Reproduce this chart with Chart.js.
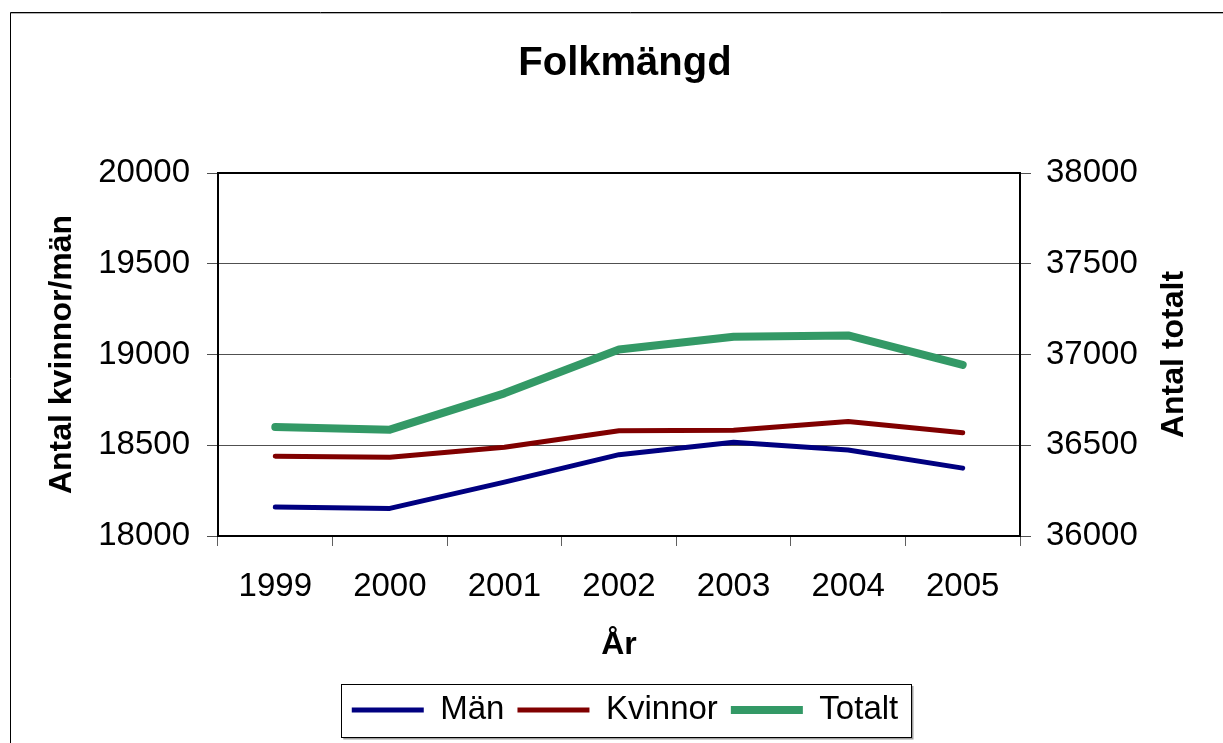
<!DOCTYPE html>
<html>
<head>
<meta charset="utf-8">
<script src="https://cdn.jsdelivr.net/npm/chart.js@4.4.1/dist/chart.umd.min.js"></script>
<style>
  html, body { margin: 0; padding: 0; background: #fff; overflow: hidden; }
  #wrap { position: absolute; left: 0; top: 0; width: 1250px; height: 743px; }
</style>
</head>
<body>
<div id="wrap"><canvas id="c"></canvas></div>
<script>
const chartTitle = 'Folkmängd';
const xTitle = 'År';
const leftTitle = 'Antal kvinnor/män';
const rightTitle = 'Antal totalt';

const years = ['1999', '2000', '2001', '2002', '2003', '2004', '2005'];
const man = [18160, 18152, 18297, 18448, 18516, 18474, 18374];
const kvinnor = [18440, 18434, 18489, 18580, 18582, 18631, 18569];
const totalt = [36600, 36586, 36786, 37028, 37098, 37105, 36943];

const leftTicks = [18000, 18500, 19000, 19500, 20000];
const rightTicks = [36000, 36500, 37000, 37500, 38000];

const FONT = "'Liberation Sans', Arial, Helvetica, sans-serif";
Chart.defaults.font.family = FONT;
Chart.defaults.color = '#000';

const framePlugin = {
  id: 'frame',
  beforeDraw(chart) {
    const ctx = chart.ctx;
    ctx.save();
    ctx.fillStyle = '#fff';
    ctx.fillRect(0, 0, chart.width, chart.height);
    ctx.strokeStyle = '#000';
    ctx.lineWidth = 1;
    ctx.beginPath();
    ctx.moveTo(10.5, chart.height + 5);
    ctx.lineTo(10.5, 12.5);
    ctx.lineTo(chart.width + 5, 12.5);
    ctx.stroke();
    ctx.strokeStyle = '#b0b0b0';
    ctx.beginPath();
    ctx.moveTo(11, 13.5);
    ctx.lineTo(chart.width + 5, 13.5);
    ctx.stroke();
    ctx.restore();
  },
  beforeDatasetsDraw(chart) {
    const {ctx, chartArea: a} = chart;
    ctx.save();
    ctx.strokeStyle = '#000';
    ctx.lineWidth = 2;
    ctx.strokeRect(a.left, a.top, a.right - a.left, a.bottom - a.top);
    ctx.restore();
  },
  afterDraw(chart) {
    const {ctx, chartArea: a} = chart;
    // right axis title, reading bottom-to-top
    ctx.save();
    ctx.translate(a.right + 163, (a.top + a.bottom) / 2);
    ctx.rotate(-Math.PI / 2);
    ctx.font = 'bold 32px ' + FONT;
    ctx.fillStyle = '#000';
    ctx.textAlign = 'center';
    ctx.textBaseline = 'alphabetic';
    ctx.fillText(rightTitle, 0, 0);
    ctx.restore();
    // legend border
    const hb = chart.legend && chart.legend.legendHitBoxes;
    if (hb && hb.length) {
      const first = hb[0], last = hb[hb.length - 1];
      const l = first.left - 10.5, r = last.left + last.width + 13;
      const t = first.top - 9.5, b = first.top + 43.5;
      ctx.save();
      ctx.strokeStyle = '#a0a0a0';
      ctx.lineWidth = 2;
      ctx.beginPath();
      ctx.moveTo(l + 2, Math.round(b) + 1.5);
      ctx.lineTo(Math.round(r) + 1.5, Math.round(b) + 1.5);
      ctx.lineTo(Math.round(r) + 1.5, Math.round(t) + 2);
      ctx.stroke();
      ctx.strokeStyle = '#000';
      ctx.lineWidth = 1;
      ctx.strokeRect(Math.round(l) + 0.5, Math.round(t) + 0.5, Math.round(r - l), Math.round(b - t));
      ctx.restore();
    }
  }
};

new Chart(document.getElementById('c'), {
  type: 'line',
  data: {
    labels: years,
    datasets: [
      { label: 'Män', data: man, yAxisID: 'y', borderColor: '#000080', backgroundColor: '#000080',
        borderWidth: 5, pointRadius: 0, borderCapStyle: 'round', borderJoinStyle: 'round', tension: 0 },
      { label: 'Kvinnor', data: kvinnor, yAxisID: 'y', borderColor: '#800000', backgroundColor: '#800000',
        borderWidth: 5, pointRadius: 0, borderCapStyle: 'round', borderJoinStyle: 'round', tension: 0 },
      { label: 'Totalt', data: totalt, yAxisID: 'y2', borderColor: '#339966', backgroundColor: '#339966',
        borderWidth: 8, pointRadius: 0, borderCapStyle: 'round', borderJoinStyle: 'round', tension: 0 }
    ]
  },
  options: {
    responsive: true,
    maintainAspectRatio: false,
    animation: false,
    layout: { padding: { left: 0, right: 0, top: 0, bottom: 6.5 } },
    plugins: {
      title: {
        display: true, text: chartTitle, color: '#000',
        font: { size: 40, weight: 'bold' },
        padding: { top: 40, bottom: 85 }
      },
      legend: {
        display: true, position: 'bottom',
        labels: {
          usePointStyle: true, pointStyle: 'line', pointStyleWidth: 72,
          font: { size: 33 }, color: '#000', padding: 13
        }
      },
      tooltip: { enabled: false }
    },
    scales: {
      x: {
        type: 'category',
        offset: true,
        border: { display: false },
        grid: { offset: true, drawOnChartArea: false, drawTicks: true, tickLength: 10, color: '#606060', lineWidth: 1 },
        ticks: { font: { size: 33 }, color: '#000', padding: 21, maxRotation: 0, autoSkip: false },
        title: { display: true, text: xTitle, color: '#000', font: { size: 32, weight: 'bold' }, padding: { top: 0, bottom: 16.2 } },
        afterFit(s) { s.height = 144.5; }
      },
      y: {
        type: 'linear', position: 'left', min: 18000, max: 20000,
        border: { display: false },
        grid: { drawOnChartArea: true, drawTicks: true, tickLength: 11, color: '#505050', lineWidth: 1 },
        ticks: { font: { size: 33 }, color: '#000', padding: 17, callback: v => String(v) },
        afterBuildTicks(s) { s.ticks = leftTicks.map(v => ({ value: v })); },
        title: { display: true, text: leftTitle, color: '#000', font: { size: 32, weight: 'bold' }, padding: { top: 42.5, bottom: 0 } },
        afterFit(s) { s.width = 218; }
      },
      y2: {
        type: 'linear', position: 'right', min: 36000, max: 38000,
        border: { display: false },
        grid: { drawOnChartArea: false, drawTicks: true, tickLength: 11, color: '#505050', lineWidth: 1 },
        ticks: { font: { size: 33 }, color: '#000', padding: 15, callback: v => String(v) },
        afterBuildTicks(s) { s.ticks = rightTicks.map(v => ({ value: v })); },
        afterFit(s) { s.width = 230; }
      }
    }
  },
  plugins: [framePlugin]
});
</script>
</body>
</html>
